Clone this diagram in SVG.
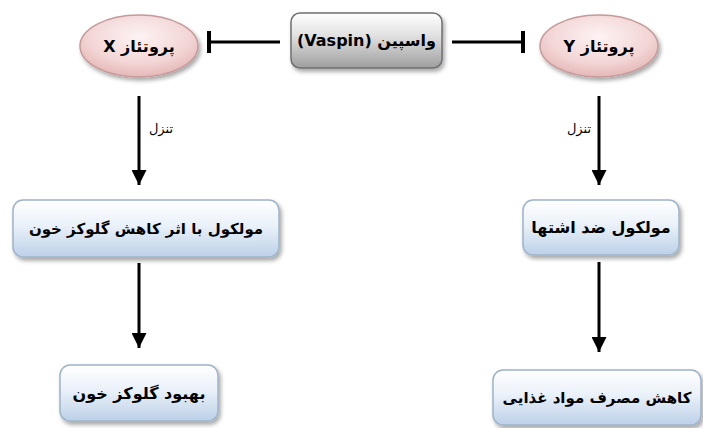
<svg xmlns="http://www.w3.org/2000/svg" width="703" height="428" viewBox="0 0 703 428">
<defs>
<linearGradient id="gBlue" x1="0" y1="0" x2="0" y2="1">
<stop offset="0" stop-color="#ffffff"/>
<stop offset="0.45" stop-color="#eaf1f9"/>
<stop offset="1" stop-color="#bcd0e8"/>
</linearGradient>
<linearGradient id="gGray" x1="0" y1="0" x2="0" y2="1">
<stop offset="0" stop-color="#ffffff"/>
<stop offset="0.4" stop-color="#e2e2e2"/>
<stop offset="1" stop-color="#9e9e9e"/>
</linearGradient>
<radialGradient id="gPink" cx="0.5" cy="0.35" r="0.7">
<stop offset="0" stop-color="#fdf3f3"/>
<stop offset="0.6" stop-color="#f3d6d6"/>
<stop offset="1" stop-color="#e2b0b0"/>
</radialGradient>
<filter id="sh" x="-10%" y="-10%" width="125%" height="135%">
<feGaussianBlur in="SourceAlpha" stdDeviation="2"/>
<feOffset dx="2" dy="3" result="b"/>
<feComponentTransfer><feFuncA type="linear" slope="0.35"/></feComponentTransfer>
<feMerge><feMergeNode/><feMergeNode in="SourceGraphic"/></feMerge>
</filter>
<marker id="arr" viewBox="0 0 10 10" refX="10" refY="5" markerWidth="5" markerHeight="5" orient="auto" markerUnits="strokeWidth">
<path d="M0,0 L10,5 L0,10 Z" fill="#000"/>
</marker>
</defs>
<style>
.box{fill:url(#gBlue);stroke:#9fb3c8;stroke-width:1.5;filter:url(#sh)}
.gbox{fill:url(#gGray);stroke:#6f6f6f;stroke-width:1.5;filter:url(#sh)}
.ell{fill:url(#gPink);stroke:#c49a9a;stroke-width:1.5;filter:url(#sh)}
.t{font-family:"DejaVu Sans","Noto Sans",sans-serif;font-weight:bold;font-size:16px;fill:#000;text-anchor:middle;direction:rtl;unicode-bidi:embed}
.s{font-size:15px}
.lbl{font-family:"DejaVu Sans","Noto Sans",sans-serif;font-size:13px;fill:#000;text-anchor:middle;direction:rtl;unicode-bidi:embed}
.ln{stroke:#000;stroke-width:3;fill:none}
.bar{stroke:#000;stroke-width:4;fill:none}
</style>
<g id="connectors">
<line class="ln" x1="280" y1="42" x2="209" y2="42"/>
<line class="bar" x1="209" y1="31" x2="209" y2="53"/>
<line class="ln" x1="452" y1="42" x2="523" y2="42"/>
<line class="bar" x1="523" y1="31" x2="523" y2="53"/>
<line class="ln" x1="139" y1="96" x2="139" y2="185" marker-end="url(#arr)"/>
<line class="ln" x1="139" y1="263" x2="139" y2="348" marker-end="url(#arr)"/>
<line class="ln" x1="599" y1="96" x2="599" y2="185" marker-end="url(#arr)"/>
<line class="ln" x1="599" y1="262" x2="599" y2="352" marker-end="url(#arr)"/>
<text class="lbl" x="161" y="133">تنزل</text>
<text class="lbl" x="579" y="133">تنزل</text>
</g>
<g id="vaspin">
<rect class="gbox" x="291" y="13" width="151" height="55" rx="9"/>
<text class="t" x="366.5" y="46">واسپین (Vaspin)</text>
</g>
<g id="proteaseX">
<ellipse class="ell" cx="139" cy="46" rx="59" ry="31"/>
<text class="t" x="139" y="52">پروتئاز X</text>
</g>
<g id="proteaseY">
<ellipse class="ell" cx="599" cy="46" rx="59" ry="31"/>
<text class="t" x="599" y="52">پروتئاز Y</text>
</g>
<g id="glucoseMolecule">
<rect class="box" x="13" y="200" width="266" height="57" rx="10"/>
<text class="t s" x="146" y="234">مولکول با اثر کاهش گلوکز خون</text>
</g>
<g id="anorexicMolecule">
<rect class="box" x="523" y="200" width="156" height="55" rx="10"/>
<text class="t" x="601" y="233">مولکول ضد اشتها</text>
</g>
<g id="glucoseImprove">
<rect class="box" x="60" y="365" width="158" height="56" rx="10"/>
<text class="t" x="139" y="399">بهبود گلوکز خون</text>
</g>
<g id="foodReduce">
<rect class="box" x="493" y="370" width="208" height="55" rx="10"/>
<text class="t s" x="597" y="403">کاهش مصرف مواد غذایی</text>
</g>
</svg>
